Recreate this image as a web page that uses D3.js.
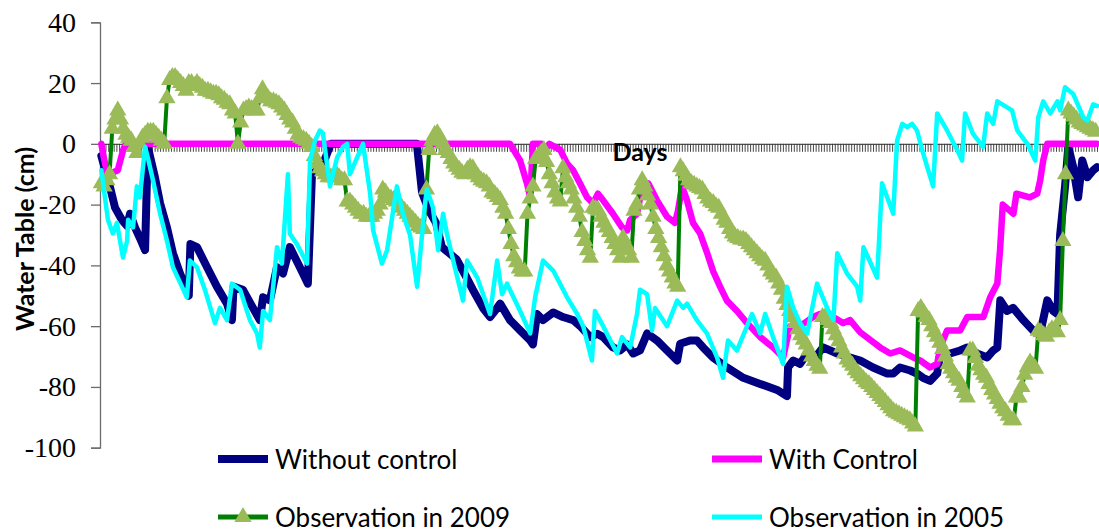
<!DOCTYPE html>
<html>
<head>
<meta charset="utf-8">
<script src="https://cdn.jsdelivr.net/npm/d3@7"></script>
<style>
  html, body { margin: 0; padding: 0; background: #fff; }
  svg { display: block; }
</style>
</head>
<body>
<script>
// ---------------- DATA ----------------
const dayCount = 365;
const yTicks = [-100, -80, -60, -40, -20, 0, 20, 40];
const xAxisTitle = "Days";
const yAxisTitle = "Water Table (cm)";
const seriesNames = ["Without control", "With Control", "Observation in 2009", "Observation in 2005"];

// [day, water table (cm)] breakpoints
const withoutControl = [[0,-4],[3.1,-14],[5,-21],[7.5,-25],[9.4,-27],[10.5,-23],[12.3,-27.5],[14.1,-31],[16,-35],[17,-1],[19.6,-11],[21.5,-19.6],[24,-27.5],[26.2,-36],[28.8,-42.7],[31.3,-48],[32,-50],[32.6,-33],[35,-34],[38.7,-40.6],[42.3,-47],[46,-52.6],[47.8,-58],[48.4,-47],[51.8,-48],[55.5,-54],[58,-58],[59.2,-50.5],[61.7,-51.5],[64.3,-40.6],[66.5,-42.7],[69,-34],[70.9,-37.4],[73.8,-42.7],[75.6,-46],[77.1,-10],[79,-8.7],[81,-7],[84,0],[115.5,0],[117.4,-16],[120,-22],[122.5,-26],[124.7,-34],[127.4,-36],[130,-38],[133.7,-44],[136,-48],[139.7,-54],[142.3,-57],[144.9,-54],[146,-52.6],[149.6,-58],[153.3,-61.4],[157,-64.7],[158,-66],[159.5,-56],[161.7,-58],[165.4,-55.5],[169,-57],[172.7,-58],[175.3,-60],[179,-63.6],[181.5,-62.5],[183.7,-63.6],[187.3,-67],[189.9,-68],[192.5,-66],[194.7,-69],[197.2,-68],[199.8,-62.4],[203.4,-64.7],[207.1,-68],[210.8,-71.3],[211.9,-65.8],[215.5,-64.7],[218,-64.7],[220.3,-67],[223.9,-70.3],[229,-73.6],[235,-77],[241.2,-79],[247.4,-81],[251,-83],[251.4,-73.6],[253.3,-71.3],[255.8,-72.4],[258.4,-69],[260.5,-71.3],[264.2,-67],[269.4,-69],[274.1,-70.3],[277.8,-71.3],[282.5,-73.6],[287.7,-75.6],[289.9,-75.6],[292.4,-73.6],[296.1,-74.6],[298.6,-75.6],[300.8,-77],[303.4,-78],[306,-75.6],[307.1,-69],[310.7,-69],[314.4,-68],[317,-67],[320.6,-69],[324.3,-70.3],[326.5,-68],[328,-67],[329.1,-51.5],[331.6,-55],[333.8,-54],[337.5,-58],[341.1,-61.4],[343.7,-62.4],[346.3,-51.5],[348.5,-55],[350,-56],[351,-30],[352.8,-14],[354,-1],[355.8,-7.7],[357.6,-17.6],[359.1,-5.5],[361,-11],[363.1,-8.7],[364.5,-7.7]];

const withControl = [[0,0],[1,-5],[2,-9],[4,-9.5],[6,-8.7],[8,-2],[9,0],[149.6,0],[153.3,-5.5],[155.8,-13],[157,-17.6],[158,0],[161,0],[162.5,-2],[164,0],[166,-1],[168,-2],[170.5,-6.5],[172.7,-8.7],[175.2,-13],[177.8,-17.6],[180,-19.6],[181.8,-16.4],[183.7,-18.6],[187.3,-23],[190.6,-27.5],[192.5,-28.5],[193.6,-25],[196.1,-23],[198.3,-13],[200.2,-13],[203.4,-18.6],[207.1,-24],[210,-26],[211.1,-22],[212.6,-14],[214.4,-18.6],[216.6,-26],[219.2,-29.5],[221.8,-36],[224,-42],[226.5,-47],[229,-51.6],[232.7,-55],[236.4,-59],[241.2,-63.6],[245.9,-67],[249.6,-70.3],[252.1,-60],[255.8,-60],[260.5,-57],[263.1,-56],[267.9,-57],[271.6,-59],[274.1,-58],[277.8,-62],[285.1,-67],[288.8,-69],[292.4,-68],[297.2,-70.3],[299.8,-71.3],[303.4,-73.6],[306,-72.4],[307.1,-67],[309.6,-61.4],[314.4,-61.4],[317,-57],[322.9,-57],[325.4,-50.5],[328,-46],[329,-35],[330,-20],[331.3,-21],[333.9,-23],[335,-16.4],[339.9,-17.6],[342.6,-16.4],[343.7,-12],[344.8,-5.5],[346.3,0],[364.5,0]];

// daily observations 2009 (day 0 .. 364)
const obs2009 = [
-13,-14,-12,-10,5,8,11,8,5,3,2,1,-1,-3,0,2,3,4,4,4,
3,2,1,0,15,21,22,22,21,20,19,17.5,20,20,19,20,19,18.5,17.5,17.5,
17,16.5,16.5,16,15,14.5,13.5,13,11,10,0,7,11,11.5,12,11.5,11,11,15,18,
16,15,14,14,13.5,13,12,11,9.5,8,7,5,3,2,1.5,1,0,-1,-4,-6.5,
-8,-9,-10,-11,-11,-11,-10,-11,-12,-12,-19,-19,-20,-21,-22,-23,-23,-24,-24,-24,
-23,-22,-20,-15,-16,-17.5,-18,-18.5,-19,-20,-21,-22,-23,-24,-25,-26,-27,-27.5,-28,-15,
-2,1,3,3.5,2,0,-2,-3,-5,-6.5,-7.5,-8.5,-9.5,-10,-8.5,-7.7,-8,-10,-11,-12,
-12.5,-13,-14,-16,-16.5,-17.5,-18.5,-21,-23,-28,-33,-37,-39,-41,-42,-42,-23,-18,-14,-5,
-4,-3,-2,-6,-10,-13,-16,-18,-19,-8,-11,-13,-15,-18,-21,-24,-29,-32,-35,-37.5,
-21,-21.5,-22,-24,-26,-27.5,-29,-31,-33,-35,-37.5,-31,-33,-35,-37.5,-22,-20,-15,-12,-14,
-17,-20,-24,-28,-31,-34,-37,-40,-42,-44,-46,-47,-7.7,-9,-10.5,-12,-13,-13.5,-14,-14.5,
-15,-16.5,-18,-19,-19.5,-20.5,-21,-23,-25,-26,-28,-29.5,-30.5,-31,-31.5,-31.5,-32,-33,-34,-35,
-36,-37,-38,-38.5,-40,-42,-43,-44,-46,-48,-51,-53,-55,-57,-59,-61,-63,-64.5,-66,-68,
-70,-71.5,-73,-74,-57,-57,-58,-59,-61,-63,-65,-67,-69,-71,-72,-73,-74.5,-75.5,-76.5,-77.5,
-78.5,-79,-80,-81,-82,-83,-84,-85,-86,-87,-88,-88.5,-89,-89.5,-90,-90.5,-91,-92,-93,-55,
-54,-55.5,-57,-58,-60,-62,-63.5,-65.5,-67.5,-70,-72.5,-74,-75.5,-77,-78,-80,-82,-83.5,-68,-68,
-70.5,-73,-74.5,-76,-77,-79,-81,-82.5,-84,-85.5,-87,-88,-89.5,-91,-91,-83.5,-83.5,-80,-76,-73.5,
-72,-73,-74,-61.5,-62,-63,-63.5,-62,-61,-61.5,-62,-58,-32,-10,11,10,9,8,7,6.5,
6,5.5,5,4.5,4
];

const obs2005 = [[0,-8.7],[1.3,-17.6],[2.4,-25],[4.2,-29.5],[5.7,-26],[7.9,-37.4],[9.4,-32],[9.8,-25],[11.6,-27.5],[13,-14],[14.1,-17.6],[16,-1],[17,-4.5],[18.9,-12],[21.5,-23],[24,-31.8],[26.2,-40.6],[29.5,-47],[31.3,-50.5],[32.4,-38.4],[35,-40.6],[37.9,-48],[41.6,-59],[43.4,-54],[46,-58],[47.8,-46],[50.8,-48],[54.4,-58],[57,-62.4],[58,-67],[59.2,-55],[61.7,-58],[64.3,-34],[66.1,-39.4],[68.3,-10],[69,-29.6],[71.6,-33],[75.3,-39.4],[76.4,-5.5],[78.2,1],[80,4.4],[81.1,3.5],[83.7,-14],[86.3,-4.5],[88.5,-1],[90,0],[91,-10],[95.8,0],[98.4,-16.4],[99.5,-28.5],[102.7,-39.4],[104.6,-35],[108.2,-14],[110.4,-23],[113,-30],[115.6,-47],[118.5,-19.6],[119.2,-15],[121.4,-21],[123.3,-35],[125.1,-23],[126.5,-29.6],[128.8,-38.4],[132.4,-51.6],[133.9,-38.4],[137.6,-44],[142.3,-56],[144.9,-38.4],[146.7,-49.5],[148.5,-46],[153.3,-55],[157,-62.4],[158.8,-50.5],[161.7,-38.4],[165.4,-41.7],[170.5,-50.5],[174.2,-56],[176.4,-60],[179.6,-71.3],[180.7,-55],[183.7,-60],[188.8,-69],[190.6,-63.6],[193.6,-67],[196.1,-56],[197.2,-48],[199.8,-49.5],[201.6,-61.4],[202.7,-54],[207.1,-60],[210.8,-51.6],[213,-54],[214.4,-52.6],[218,-58],[221.7,-62.4],[225.4,-70.3],[227.6,-77],[229.4,-64.7],[232.7,-68],[238.2,-56],[241.2,-62.4],[243,-56],[245.9,-63.6],[249.6,-72.4],[251,-47],[253.3,-54],[255.8,-59],[258.4,-62.4],[262,-46],[265.7,-54],[268,-58],[269.4,-36],[273,-42.7],[276.7,-47],[277.8,-51.6],[279,-34],[284,-44],[285.8,-13],[289.9,-23],[291.3,1],[293.2,6.6],[295,5.5],[296.8,6.6],[298.6,4.4],[300.8,-3],[304.5,-14],[306,10],[309.6,4.4],[313.3,-2],[315.1,-5.5],[316.2,10],[319.1,3.3],[322.8,-1],[324.3,10],[326.5,6.6],[328,14],[331.6,12],[333.4,11],[335.3,4.4],[339,0],[341.9,-5.5],[343,8.7],[344.8,14],[347.4,10],[350,14],[351,11],[352.8,18.6],[355.8,16.4],[359.5,8.7],[361,7.7],[363.1,13],[364.5,12.5]];

const colors = { without: "#000080", withC: "#FF00FF", obsLine: "#008000", obsMarker: "#9BBB59", obs2005: "#00FFFF" };

// ---------------- CHART ----------------
const W = 1099, H = 529;
const plot = { left: 100, right: 1097, top: 22.3, bottom: 447.7 };

const svg = d3.select("body").append("svg").attr("width", W).attr("height", H);

const x = d3.scaleLinear().domain([-0.5, dayCount - 0.5]).range([plot.left, plot.right]);
const y = d3.scaleLinear().domain([-100, 40]).range([plot.bottom, plot.top]);

// Y axis
const yAxis = svg.append("g").attr("transform", `translate(${plot.left},0)`)
  .call(d3.axisLeft(y).tickValues(yTicks).tickSize(9).tickPadding(15).tickFormat(d3.format("d")));
yAxis.select(".domain").attr("stroke", "#6b6b6b").attr("stroke-width", 1.3);
yAxis.selectAll(".tick line").attr("stroke", "#6b6b6b").attr("stroke-width", 1.3);
yAxis.selectAll(".tick text")
  .attr("font-family", "'Liberation Serif','Times New Roman',serif")
  .attr("font-size", 28).attr("fill", "#000").text(d => d < 0 ? "-" + Math.abs(d) : d);

// X axis at y = 0 with a tick at each day boundary
const xTickVals = d3.range(0, dayCount + 1).map(i => i - 0.5);
const xAxis = svg.append("g").attr("transform", `translate(0,${y(0)})`)
  .call(d3.axisBottom(x).tickValues(xTickVals).tickSize(8).tickSizeOuter(0).tickFormat(""));
xAxis.select(".domain").attr("stroke", "#555").attr("stroke-width", 1.3);
xAxis.selectAll(".tick line").attr("stroke", "#333").attr("stroke-width", 0.9);

// Y title
svg.append("text")
  .attr("transform", `translate(34,${(plot.top + plot.bottom) / 2 + 4}) rotate(-90)`)
  .attr("text-anchor", "middle")
  .attr("font-family", "Lato, 'Open Sans', sans-serif").attr("font-weight", "bold")
  .attr("font-size", 25).attr("fill", "#000").text(yAxisTitle);

// Lines
const line = d3.line().x(d => x(d[0])).y(d => y(d[1]));
const g = svg.append("g").attr("fill", "none").attr("stroke-linejoin", "round").attr("stroke-linecap", "round");

g.append("path").datum(withoutControl).attr("d", line).attr("stroke", colors.without).attr("stroke-width", 8);
g.append("path").datum(withControl).attr("d", line).attr("stroke", colors.withC).attr("stroke-width", 6.5);

const obsPts = obs2009.map((v, i) => [i, v]);
svg.append("path").datum(obsPts).attr("d", line).attr("fill", "none")
  .attr("stroke", colors.obsLine).attr("stroke-width", 4).attr("stroke-linejoin", "round");
const tri = d3.symbol().type(d3.symbolTriangle).size(130);
svg.append("g").selectAll("path").data(obsPts).join("path")
  .attr("transform", d => `translate(${x(d[0])},${y(d[1])})`)
  .attr("d", tri).attr("fill", colors.obsMarker);

svg.append("path").datum(obs2005).attr("d", line).attr("fill", "none")
  .attr("stroke", colors.obs2005).attr("stroke-width", 4.5)
  .attr("stroke-linejoin", "round").attr("stroke-linecap", "round");

// X title
svg.append("text").attr("x", 640).attr("y", 161).attr("text-anchor", "middle")
  .attr("font-family", "Lato, 'Open Sans', sans-serif").attr("font-weight", "bold")
  .attr("font-size", 25).attr("fill", "#000").text(xAxisTitle);

// Legend
const legendItems = [
  { name: seriesNames[0], color: colors.without, w: 8, x: 218, y: 459, marker: false },
  { name: seriesNames[1], color: colors.withC, w: 7, x: 712, y: 459, marker: false },
  { name: seriesNames[2], color: colors.obsLine, w: 5, x: 218, y: 517, marker: true },
  { name: seriesNames[3], color: colors.obs2005, w: 5, x: 712, y: 517, marker: false }
];
const lg = svg.append("g").selectAll("g").data(legendItems).join("g")
  .attr("transform", d => `translate(${d.x},${d.y})`);
lg.append("line").attr("x1", 0).attr("x2", 50).attr("y1", 0).attr("y2", 0)
  .attr("stroke", d => d.color).attr("stroke-width", d => d.w);
lg.filter(d => d.marker).append("path").attr("transform", "translate(25,0)")
  .attr("d", tri).attr("fill", colors.obsMarker);
lg.append("text").attr("x", 57).attr("y", 10)
  .attr("font-family", "Lato, 'Open Sans', sans-serif")
  .attr("font-size", 26).attr("fill", "#000").text(d => d.name);
</script>
</body>
</html>
